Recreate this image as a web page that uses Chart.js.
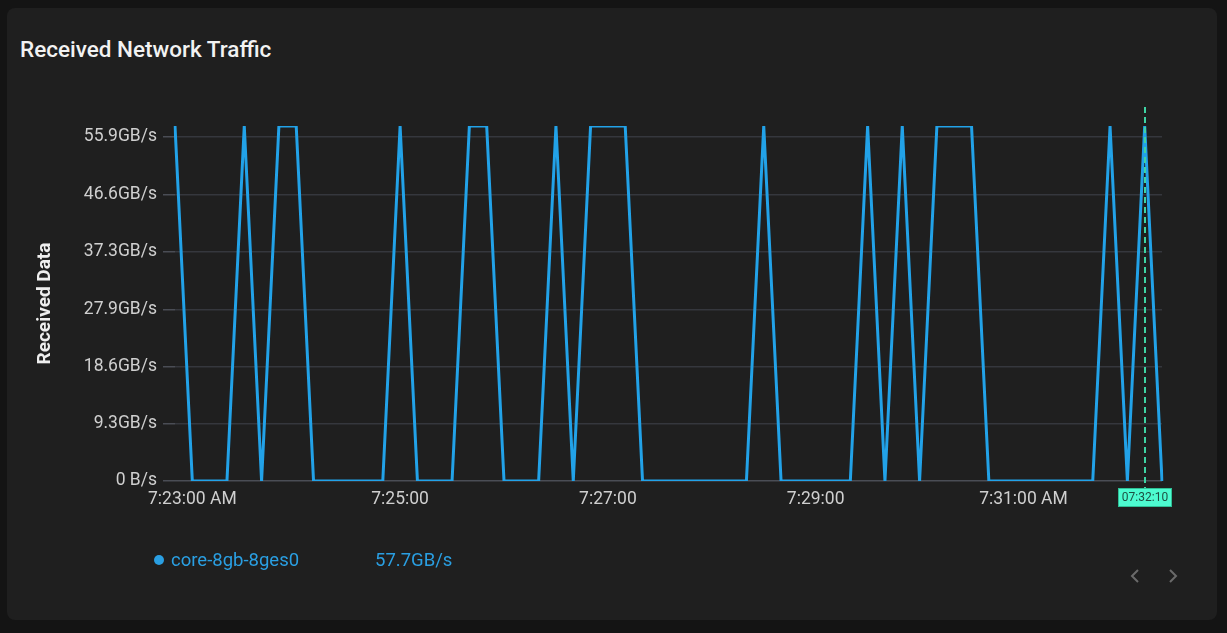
<!DOCTYPE html>
<html>
<head>
<meta charset="utf-8">
<script src="https://cdn.jsdelivr.net/npm/chart.js@4/dist/chart.umd.min.js"></script>
<style>
  html, body { margin: 0; padding: 0; background: #141414; }
  body { width: 1227px; height: 633px; position: relative; overflow: hidden; font-family: Roboto, "Noto Sans", sans-serif; }
  .card { position: absolute; left: 7px; top: 8px; width: 1210px; height: 612px; background: #1f1f1f; border-radius: 8px; }
  .title { position: absolute; left: 20px; top: 34px; font-size: 22.5px; font-weight: 500; color: #f2f2f2; line-height: 30px; }
  #chart { position: absolute; left: 0; top: 0; }
  .legend { position: absolute; left: 154px; top: 549px; font-size: 18.5px; color: #2a9fe2; line-height: 22px; }
  .legend .dot { display: inline-block; width: 10px; height: 10px; border-radius: 50%; background: #2a9fe2; margin-right: 7px; vertical-align: 1px; }
  .legend .val { position: absolute; left: 221px; top: 0; white-space: nowrap; }
  .nav { position: absolute; top: 568px; }
</style>
</head>
<body>
<div class="card"></div>
<div class="title">Received Network Traffic</div>
<canvas id="chart" width="1227" height="633"></canvas>
<div class="legend"><span class="dot"></span><span id="legend-name"></span><span class="val" id="legend-val"></span></div>
<svg class="nav" style="left:1129px" width="12" height="16"><polyline points="9,2 3,8 9,14" fill="none" stroke="#6a6a6a" stroke-width="2"/></svg>
<svg class="nav" style="left:1167px" width="12" height="16"><polyline points="3,2 9,8 3,14" fill="none" stroke="#6a6a6a" stroke-width="2"/></svg>
<script>
// horário de cada amostra (a cada 10 s)
const categories = [
  "07:22:50", "07:23:00", "07:23:10", "07:23:20", "07:23:30", "07:23:40", "07:23:50", "07:24:00",
  "07:24:10", "07:24:20", "07:24:30", "07:24:40", "07:24:50", "07:25:00", "07:25:10", "07:25:20",
  "07:25:30", "07:25:40", "07:25:50", "07:26:00", "07:26:10", "07:26:20", "07:26:30", "07:26:40",
  "07:26:50", "07:27:00", "07:27:10", "07:27:20", "07:27:30", "07:27:40", "07:27:50", "07:28:00",
  "07:28:10", "07:28:20", "07:28:30", "07:28:40", "07:28:50", "07:29:00", "07:29:10", "07:29:20",
  "07:29:30", "07:29:40", "07:29:50", "07:30:00", "07:30:10", "07:30:20", "07:30:30", "07:30:40",
  "07:30:50", "07:31:00", "07:31:10", "07:31:20", "07:31:30", "07:31:40", "07:31:50", "07:32:00",
  "07:32:10", "07:32:20"
];

// GB/s recebidos
const receivedGBs = [
  57.7, 0, 0, 0, 57.7, 0, 57.7, 57.7,
  0, 0, 0, 0, 0, 57.7, 0, 0,
  0, 57.7, 57.7, 0, 0, 0, 57.7, 0,
  57.7, 57.7, 57.7, 0, 0, 0, 0, 0,
  0, 0, 57.7, 0, 0, 0, 0, 0,
  57.7, 0, 57.7, 0, 57.7, 57.7, 57.7, 0,
  0, 0, 0, 0, 0, 0, 57.7, 0,
  57.7, 0
];

const seriesName = "core-8gb-8ges0";
const legendValue = "57.7GB/s";

const yTicks = [0, 9.3, 18.6, 27.9, 37.3, 46.6, 55.9];
const yTickLabels = ["0 B/s", "9.3GB/s", "18.6GB/s", "27.9GB/s", "37.3GB/s", "46.6GB/s", "55.9GB/s"];
const yMax = 57.7;

const xTickTimes = ["07:23:00", "07:25:00", "07:27:00", "07:29:00", "07:31:00"];
const xTickLabels = ["7:23:00 AM", "7:25:00", "7:27:00", "7:29:00", "7:31:00 AM"];

const cursorTime = "07:32:10";

document.getElementById("legend-name").textContent = seriesName;
document.getElementById("legend-val").textContent = legendValue;

const FONT = "Roboto";

// linha tracejada do cursor + etiqueta com o horário
const cursorPlugin = {
  id: "cursor",
  afterDatasetsDraw(chart) {
    const { ctx, chartArea, scales } = chart;
    const idx = categories.indexOf(cursorTime);
    const x = Math.round(scales.x.getPixelForValue(idx));
    ctx.save();
    ctx.strokeStyle = "#3ed3a4";
    ctx.lineWidth = 2;
    ctx.setLineDash([6, 4]);
    ctx.beginPath();
    ctx.moveTo(x, chartArea.top - 19);
    ctx.lineTo(x, chartArea.bottom + 7);
    ctx.stroke();
    ctx.setLineDash([]);
    const w = 54, h = 19, top = chartArea.bottom + 7;
    ctx.fillStyle = "#4dfbd0";
    ctx.fillRect(x - w / 2, top, w, h);
    ctx.strokeStyle = "#2fbf95";
    ctx.lineWidth = 1;
    ctx.strokeRect(x - w / 2 + 0.5, top + 0.5, w - 1, h - 1);
    ctx.fillStyle = "#1d4f42";
    ctx.font = "12px " + FONT;
    ctx.textAlign = "center";
    ctx.textBaseline = "middle";
    ctx.fillText(cursorTime, x, top + h / 2 + 0.5);
    ctx.restore();
  }
};

new Chart(document.getElementById("chart"), {
  type: "line",
  data: {
    labels: categories,
    datasets: [{
      label: seriesName,
      data: receivedGBs,
      borderColor: "#22a2e8",
      borderWidth: 3,
      pointRadius: 0,
      tension: 0,
      fill: false,
    }],
  },
  options: {
    responsive: false,
    animation: false,
    events: [],
    layout: { padding: { top: 126, right: 65, left: 34, bottom: 112 } },
    plugins: { legend: { display: false }, tooltip: { enabled: false } },
    scales: {
      x: {
        type: "category",
        offset: false,
        afterFit: (s) => { s.height = 40; },
        grid: { display: false, drawTicks: false },
        border: { display: false },
        ticks: {
          autoSkip: false,
          maxRotation: 0,
          padding: 8,
          color: "#cfcfcf",
          font: { family: FONT, size: 17.5 },
          callback: (v) => {
            const i = xTickTimes.indexOf(categories[v]);
            return i >= 0 ? xTickLabels[i] : "";
          },
        },
      },
      y: {
        min: 0,
        max: yMax,
        afterFit: (s) => { s.width = 141; },
        afterBuildTicks: (s) => { s.ticks = yTicks.map(v => ({ value: v })); },
        grid: {
          color: (c) => c.index === 0 ? "#4a4d55" : "#35373d",
          tickColor: "#4a4d55",
          tickLength: 12,
          lineWidth: 1.5,
        },
        border: { display: false },
        ticks: {
          padding: 6,
          color: "#cfcfcf",
          font: { family: FONT, size: 17.5 },
          callback: (v) => yTickLabels[yTicks.indexOf(v)],
        },
        title: {
          display: true,
          text: "Received Data",
          color: "#eeeeee",
          font: { family: FONT, size: 19, weight: "bold" },
          padding: { top: 0, bottom: 4 },
        },
      },
    },
  },
  plugins: [cursorPlugin],
});
</script>
</body>
</html>
